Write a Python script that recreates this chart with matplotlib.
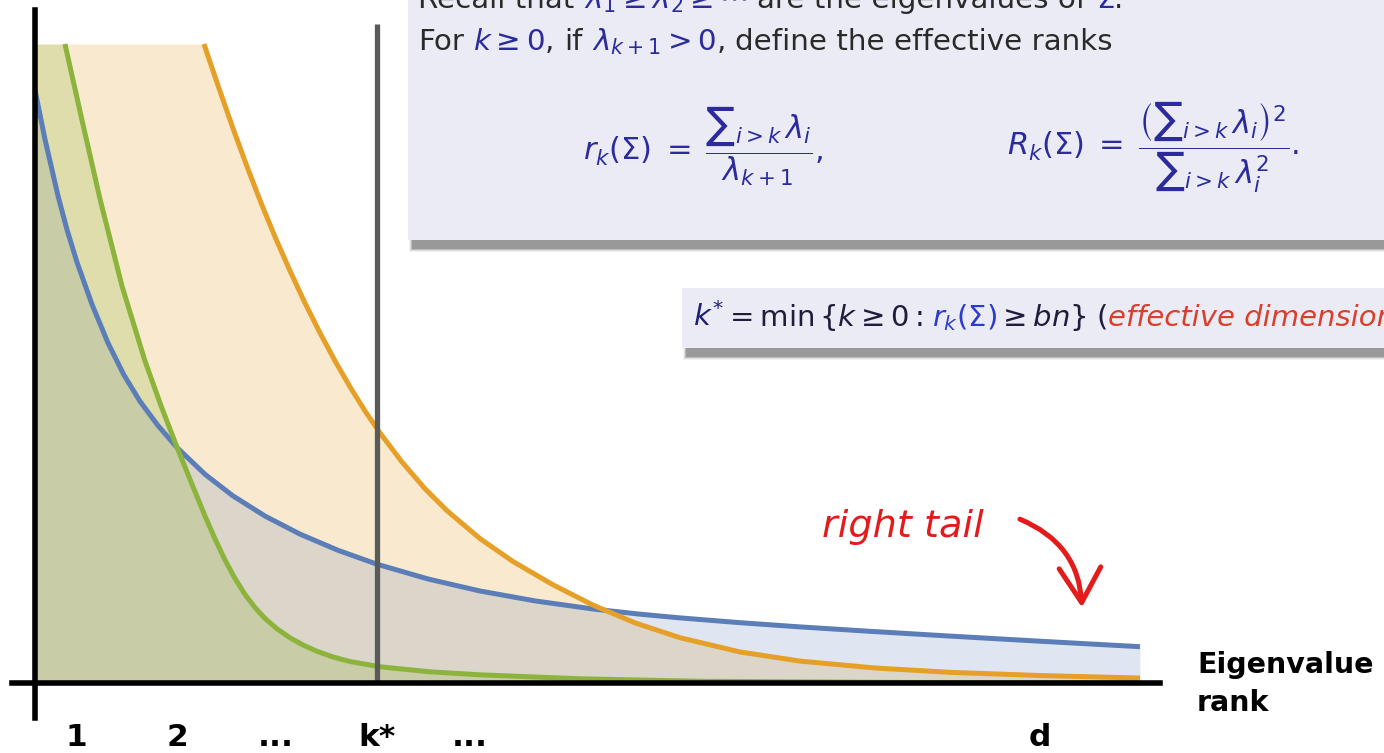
import numpy as np
import matplotlib.pyplot as plt
import matplotlib.transforms as mtransforms
from matplotlib.patches import Rectangle, FancyArrowPatch

plt.rcParams['mathtext.fontset'] = 'dejavusans'
plt.rcParams['font.family'] = 'DejaVu Sans'

# eigenvalue profiles, rank on a 0..100 scale (d = 100), value normalised to 1
orange_rank = [0, 15.29, 16.56, 17.92, 19.28, 20.54, 21.81, 23.08, 24.43, 25.79, 27.15, 28.51,
               29.86, 31.22, 33.21, 35.29, 37.29, 40.27, 43.26, 46.88, 50.50, 54.30, 58.37,
               63.80, 69.23, 76.02, 82.81, 90.95, 100]
orange_val = [1.0, 1.0, 0.9352, 0.8678, 0.8039, 0.7477, 0.6947, 0.6449, 0.5948, 0.5479, 0.5041,
              0.4634, 0.4258, 0.3914, 0.3459, 0.3041, 0.2696, 0.2260, 0.1901, 0.1537, 0.1219,
              0.0941, 0.0709, 0.0486, 0.0343, 0.0235, 0.0167, 0.0117, 0.0078]

green_rank = [0, 2.71, 4.25, 5.88, 7.87, 9.95, 11.40, 12.85, 14.12, 15.38, 16.29, 17.19, 18.10,
              19.00, 19.91, 20.81, 21.90, 23.08, 24.25, 25.52, 26.97, 28.51, 31.22, 35.75,
              40.27, 49.32, 60.18, 78.28, 100]
green_val = [1.0, 1.0, 0.8811, 0.7577, 0.6214, 0.5042, 0.4341, 0.3690, 0.3147, 0.2615, 0.2255,
             0.1926, 0.1635, 0.1387, 0.1180, 0.1011, 0.0848, 0.0707, 0.0595, 0.0496, 0.0407,
             0.0336, 0.0254, 0.0175, 0.0128, 0.0066, 0.0027, 0.0009, 0.0003]

blue_rank = [0, 0.905, 2.081, 2.896, 3.801, 5.158, 6.606, 8.054, 9.502, 11.131, 12.851, 15.385,
             17.919, 20.814, 23.982, 27.421, 30.950, 35.566, 40.271, 45.249, 50.498, 54.751,
             58.371, 63.801, 69.231, 75.566, 82.534, 90.950, 100]
blue_val = [0.9280, 0.8507, 0.7624, 0.7094, 0.6584, 0.5925, 0.5322, 0.4818, 0.4408, 0.4028,
            0.3685, 0.3266, 0.2928, 0.2613, 0.2330, 0.2077, 0.1859, 0.1628, 0.1440, 0.1285,
            0.1158, 0.1077, 0.1019, 0.0944, 0.0878, 0.0809, 0.0737, 0.0654, 0.0568]

k_star = 30.95
tick_pos = [3.7, 12.9, 21.8, k_star, 39.3, 90.9]
tick_labels = ['1', '2', '...', 'k*', '...', 'd']

BLUE, ORANGE, GREEN = '#5b7db8', '#e6a028', '#8cb43c'
MATH = '#2b2b9e'
INK = '#2a2a2a'
NAVY = '#1e1e3c'
RED = '#e31b1b'

W, H = 1384, 753
fig = plt.figure(figsize=(W / 100, H / 100), dpi=100)
ax = fig.add_axes([0, 0, 1, 1])
ax.set_xlim(-35 / 11.05, (W - 35) / 11.05)
ax.set_ylim((683 - H) / 639, 683 / 639)

# curves and shaded areas
ax.fill_between(orange_rank, orange_val, color=ORANGE, alpha=0.22, lw=0, zorder=1)
ax.fill_between(blue_rank, blue_val, color=BLUE, alpha=0.19, lw=0, zorder=1)
ax.fill_between(green_rank, green_val, color=GREEN, alpha=0.24, lw=0, zorder=1)
ax.plot(blue_rank, blue_val, color=BLUE, lw=3.6, solid_capstyle='butt',
        solid_joinstyle='round', zorder=3)
ax.plot(orange_rank[1:], orange_val[1:], color=ORANGE, lw=3.6, solid_capstyle='butt',
        solid_joinstyle='round', zorder=3)
ax.plot(green_rank[1:], green_val[1:], color=GREEN, lw=3.6, solid_capstyle='butt',
        solid_joinstyle='round', zorder=3)

ax.vlines(k_star, 0, 1.031, color='#5a5a5a', lw=3.8, zorder=4)

# axes drawn as crossing lines through the origin
for side in ['top', 'right']:
    ax.spines[side].set_visible(False)
ax.spines['left'].set_position(('data', 0))
ax.spines['bottom'].set_position(('data', 0))
ax.spines['left'].set_bounds(-0.055, 1.053)
ax.spines['bottom'].set_bounds(-2.1, 101.8)
for side in ['left', 'bottom']:
    ax.spines[side].set_linewidth(4)
    ax.spines[side].set_color('black')
    ax.spines[side].set_zorder(5)
ax.set_yticks([])
ax.set_xticks(tick_pos, tick_labels)
ax.tick_params(axis='x', length=0, pad=29, labelsize=22.5)
for lab in ax.get_xticklabels():
    lab.set_fontweight('bold')
ax.patch.set_visible(False)

img = mtransforms.Affine2D().scale(1 / W, -1 / H).translate(0, 1) + fig.transFigure

fig.text(1197, 665, 'Eigenvalue', transform=img, fontsize=20.5, fontweight='bold',
         va='center', ha='left')
fig.text(1197, 703, 'rank', transform=img, fontsize=20.5, fontweight='bold',
         va='center', ha='left')

# right tail annotation
ax.text(71.2, 0.2285, 'right tail', color=RED, fontsize=27.5, style='italic',
        ha='left', va='baseline')
arrow = FancyArrowPatch((88.9, 0.258), (94.75, 0.114), connectionstyle='arc3,rad=-0.33',
                        arrowstyle='->,head_length=1.25,head_width=0.75',
                        mutation_scale=20, lw=3.6, color=RED, zorder=6)
ax.add_patch(arrow)


def slide_box(x0, y0, x1, y1):
    # soft drop shadow under a lavender panel
    for i, a in enumerate([0.07, 0.14, 0.24, 0.36]):
        grow = 4 - i
        fig.add_artist(Rectangle((x0 + 5 - grow, y1 + 8 + grow), x1 - x0, -(y1 - y0) - 2 * grow,
                                 transform=img, color='#5a5a5a', alpha=a, lw=0, zorder=7))
    fig.add_artist(Rectangle((x0, y1), x1 - x0, -(y1 - y0), transform=img,
                             color='#ebebf5', lw=0, zorder=8))


renderer = fig.canvas.get_renderer()
t1 = fig.text(0, 0, 'a a', fontsize=20)
t2 = fig.text(0, 0, 'aa', fontsize=20)
space_w = t1.get_window_extent(renderer).width - t2.get_window_extent(renderer).width
t1.remove()
t2.remove()


def run_text(x, y, parts, size):
    # pieces of one line, each with its own colour, set one after the other
    for s, c, sp, it in parts:
        t = fig.text(x, y, s, color=c, fontsize=size, transform=img, va='baseline',
                     ha='left', style='italic' if it else 'normal', zorder=9)
        x += t.get_window_extent(renderer).width
        if sp:
            x += space_w * size / 20


slide_box(408, -20, 1400, 240)
run_text(418, 8, [('Recall that', INK, True, False),
                  (r'$\lambda_1 \geq \lambda_2 \geq \cdots$', MATH, True, False),
                  ('are the eigenvalues of', INK, True, False),
                  (r'$\Sigma$', MATH, False, False), ('.', INK, False, False)], 21.2)
run_text(418, 50, [('For', INK, True, False), (r'$k \geq 0$', MATH, False, False),
                   (',', INK, True, False), ('if', INK, True, False),
                   (r'$\lambda_{k+1} > 0$', MATH, False, False), (',', INK, True, False),
                   ('define the effective ranks', INK, False, False)], 21.2)
fig.text(583, 146, r'$r_k(\Sigma)\;=\;\dfrac{∑_{i>k}\,\lambda_i}{\lambda_{k+1}},$', color=MATH,
         fontsize=22, transform=img, va='center', ha='left', zorder=9)
fig.text(1007, 147,
         r'$R_k(\Sigma)\;=\;\dfrac{\left(∑_{i>k}\,\lambda_i\right)^2}{∑_{i>k}\,\lambda_i^2}.$',
         color=MATH, fontsize=22, transform=img, va='center', ha='left', zorder=9)

slide_box(682, 288, 1400, 348)
run_text(693, 326, [(r'$k^{*}$', '#1e1e7a', False, False),
                    (r'$= \mathrm{min}\,\{k \geq 0:$', NAVY, True, False),
                    (r'$r_k(\Sigma)$', '#2b3bcf', False, False),
                    (r'$\geq bn\}$', NAVY, True, False),
                    ('(', NAVY, False, False),
                    ('effective dimension)', '#d9402b', False, True)], 21)

fig.savefig('out.png', dpi=100)
